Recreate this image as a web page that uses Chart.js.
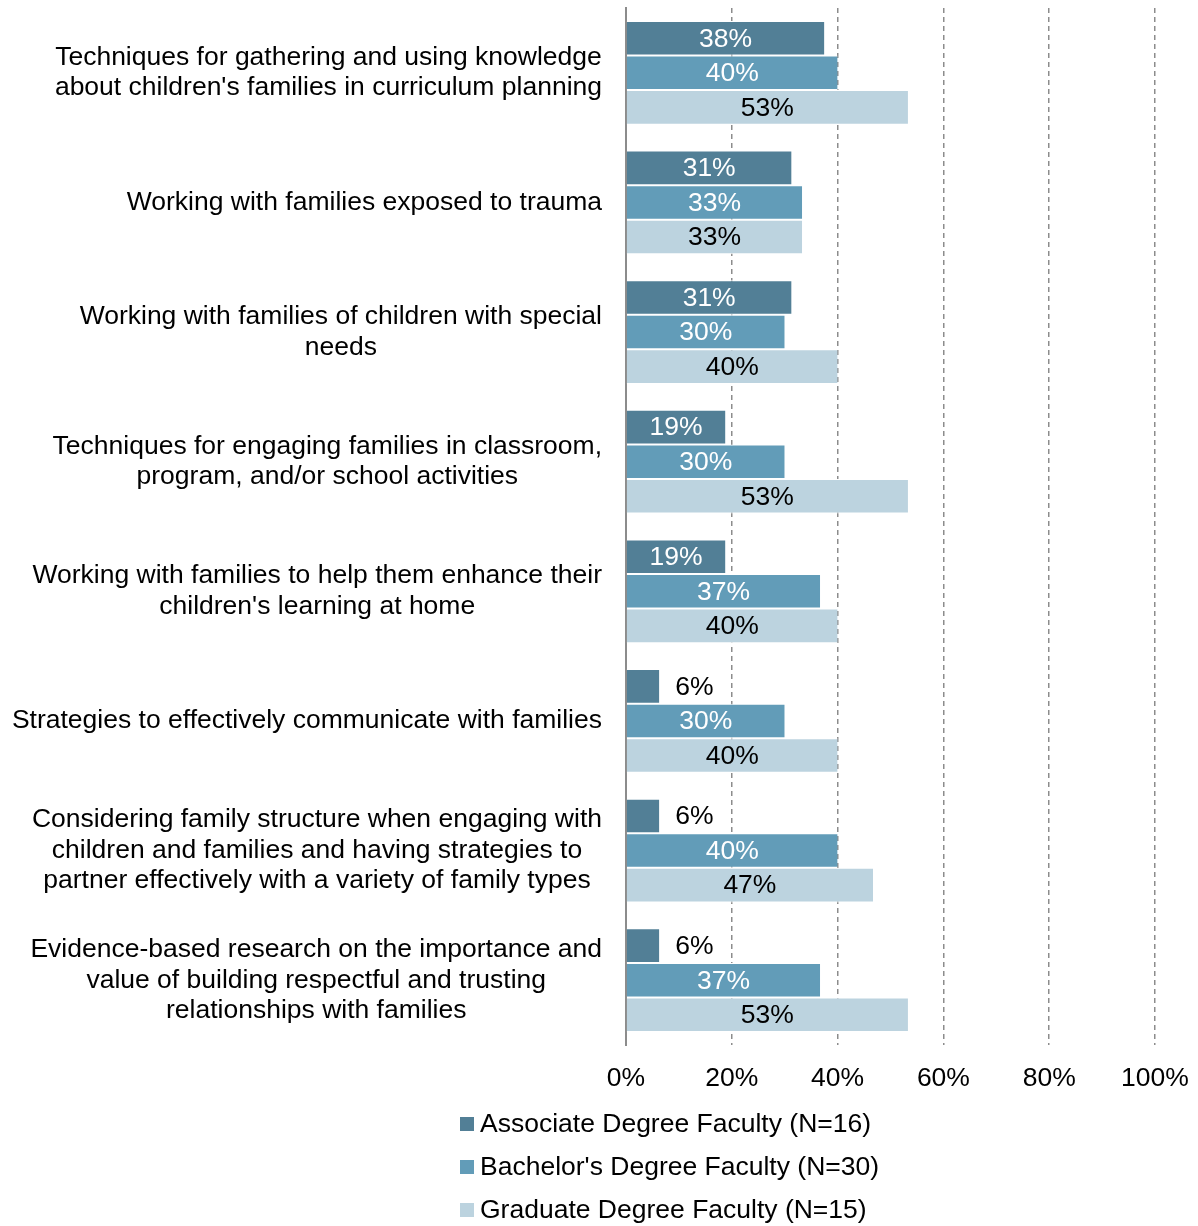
<!DOCTYPE html>
<html>
<head>
<meta charset="utf-8">
<script src="https://cdn.jsdelivr.net/npm/chart.js@4/dist/chart.umd.min.js"></script>
<style>
  html, body { margin: 0; padding: 0; background: #fff; }
  #wrap { width: 1198px; height: 1226px; }
</style>
</head>
<body>
<div id="wrap"><canvas id="myChart"></canvas></div>
<script>
var categories = [
    ["Techniques for gathering and using knowledge", "about children's families in curriculum planning"],
    ["Working with families exposed to trauma"],
    ["Working with families of children with special", "needs"],
    ["Techniques for engaging families in classroom,", "program, and/or school activities"],
    ["Working with families to help them enhance their", "children's learning at home"],
    ["Strategies to effectively communicate with families"],
    ["Considering family structure when engaging with", "children and families and having strategies to", "partner effectively with a variety of family types"],
    ["Evidence-based research on the importance and", "value of building respectful and trusting", "relationships with families"]
];
var seriesNames = ["Associate Degree Faculty (N=16)", "Bachelor's Degree Faculty (N=30)", "Graduate Degree Faculty (N=15)"];
var associate = [37.5, 31.3, 31.3, 18.8, 18.8, 6.3, 6.3, 6.3];
var bachelor = [40, 33.3, 30, 30, 36.7, 30, 40, 36.7];
var graduate = [53.3, 33.3, 40, 53.3, 40, 40, 46.7, 53.3];
var xTicks = [0, 20, 40, 60, 80, 100];

var FONT = "'Liberation Sans', Arial, Helvetica, sans-serif";
var FSIZE = 26.5;
var colors = ["#527f96", "#629cb8", "#bcd3df"];
var labelColors = ["#ffffff", "#ffffff", "#000000"];

// etiquetas de categorias: bloque alineado a la derecha, lineas centradas
var categoryLabels = {
    id: "categoryLabels",
    afterDraw: function (chart) {
        var ctx = chart.ctx;
        var yScale = chart.scales.y;
        var right = 602;
        ctx.save();
        ctx.font = FSIZE + "px " + FONT;
        ctx.fillStyle = "#000";
        ctx.textBaseline = "middle";
        ctx.textAlign = "center";
        categories.forEach(function (lines, i) {
            var maxW = 0;
            lines.forEach(function (l) { maxW = Math.max(maxW, ctx.measureText(l).width); });
            var cx = right - maxW / 2;
            var cy = yScale.getPixelForValue(i);
            var lh = 30.5;
            var y0 = cy - (lines.length - 1) * lh / 2;
            lines.forEach(function (l, j) { ctx.fillText(l, cx, y0 + j * lh); });
        });
        ctx.restore();
    }
};

// valores sobre las barras
var valueLabels = {
    id: "valueLabels",
    afterDatasetsDraw: function (chart) {
        var ctx = chart.ctx;
        ctx.save();
        ctx.font = FSIZE + "px " + FONT;
        ctx.textBaseline = "middle";
        chart.data.datasets.forEach(function (ds, di) {
            var meta = chart.getDatasetMeta(di);
            meta.data.forEach(function (bar, i) {
                var v = ds.data[i];
                var txt = Math.round(v) + "%";
                if (v < 10) {
                    ctx.fillStyle = "#000";
                    ctx.textAlign = "left";
                    ctx.fillText(txt, bar.x + 16, bar.y + 1);
                } else {
                    ctx.fillStyle = labelColors[di];
                    ctx.textAlign = "center";
                    ctx.fillText(txt, (bar.base + bar.x) / 2, bar.y + 1);
                }
            });
        });
        ctx.restore();
    }
};

// leyenda vertical abajo
var bottomLegend = {
    id: "bottomLegend",
    afterDraw: function (chart) {
        var ctx = chart.ctx;
        ctx.save();
        ctx.font = FSIZE + "px " + FONT;
        ctx.textBaseline = "middle";
        ctx.textAlign = "left";
        seriesNames.forEach(function (name, i) {
            var y = 1124 + i * 43;
            ctx.fillStyle = colors[i];
            ctx.fillRect(460, y - 7, 14, 14);
            ctx.fillStyle = "#000";
            ctx.fillText(name, 480, y + 1);
        });
        ctx.restore();
    }
};

var ctx = document.getElementById("myChart").getContext("2d");
var myChart = new Chart(ctx, {
    type: "bar",
    data: {
        labels: categories,
        datasets: [associate, bachelor, graduate].map(function (d, i) {
            return {
                label: seriesNames[i],
                data: d,
                backgroundColor: colors[i],
                borderColor: "#ffffff",
                borderWidth: { top: 1, bottom: 1, right: 0, left: 0 },
                borderSkipped: false,
                categoryPercentage: 0.8,
                barPercentage: 1.0
            };
        })
    },
    options: {
        indexAxis: "y",
        responsive: true,
        maintainAspectRatio: false,
        animation: false,
        layout: { padding: { left: 626, right: 43, top: 8, bottom: 0 } },
        plugins: {
            legend: { display: false },
            tooltip: { enabled: false }
        },
        scales: {
            x: {
                min: 0,
                max: 100,
                afterBuildTicks: function (scale) {
                    scale.ticks = xTicks.map(function (v) { return { value: v }; });
                },
                afterFit: function (scale) {
                    scale.height = 181;
                    scale.paddingLeft = 0;
                    scale.paddingRight = 0;
                },
                ticks: {
                    callback: function (v) { return v + "%"; },
                    color: "#000",
                    font: { size: FSIZE, family: FONT },
                    padding: 18,
                    maxRotation: 0
                },
                grid: {
                    drawTicks: false,
                    color: function (c) { return c.tick && c.tick.value === 0 ? "rgba(0,0,0,0)" : "#8c8c8c"; },
                    lineWidth: 1.5
                },
                border: { display: false, dash: [5, 4] }
            },
            y: {
                ticks: { display: false },
                grid: { display: false, drawTicks: false },
                border: { display: true, color: "#8c8c8c", width: 2 }
            }
        }
    },
    plugins: [categoryLabels, valueLabels, bottomLegend]
});
</script>
</body>
</html>
